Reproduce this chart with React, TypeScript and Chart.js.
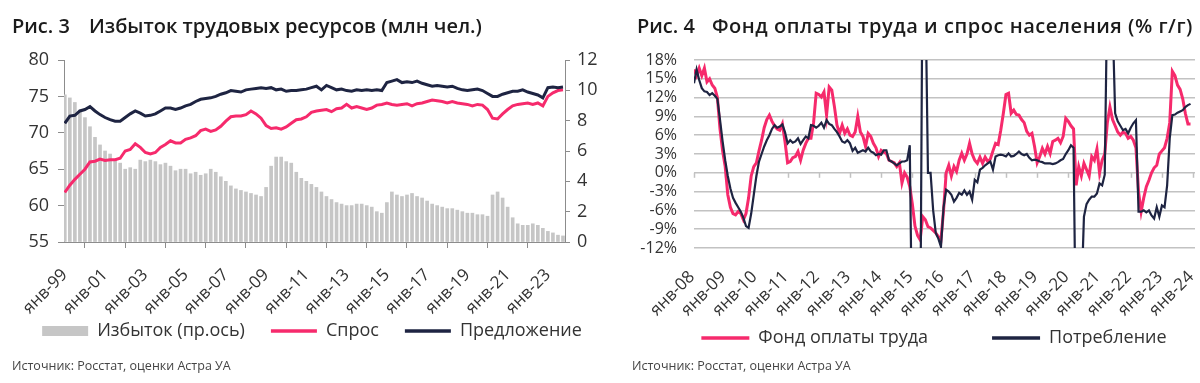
import React, { useEffect, useRef } from 'react';
import { Chart, registerables } from 'chart.js';

Chart.register(...registerables);

const FONT = "'Open Sans', 'Noto Sans', sans-serif";
const PINK = '#f62a6c';
const NAVY = '#1e2442';
const BAR = '#c6c6c6';
const AXIS = '#8c8c8c';
const GRID = '#c2c2c2';
const TXT = '#333333';

// ---------- Chart 1: quarterly, 1999Q1 .. 2023Q4 ----------
const c1Quarters = Array.from({ length: 100 }, (_, i) => 1999 + i / 4);

const c1Surplus = [
  9.7, 9.5, 9.2, 8.7, 8.2, 7.6, 6.9, 6.4, 6.0, 5.8,
  5.4, 5.2, 4.8, 4.9, 4.8, 5.4, 5.3, 5.4, 5.3, 5.1,
  5.2, 5.0, 4.7, 4.8, 4.8, 4.5, 4.6, 4.4, 4.5, 4.8,
  4.6, 4.3, 4.0, 3.7, 3.5, 3.4, 3.3, 3.2, 3.1, 3.0,
  3.6, 5.0, 5.6, 5.6, 5.3, 5.2, 4.6, 4.2, 4.0, 3.8,
  3.6, 3.3, 3.0, 2.8, 2.6, 2.5, 2.4, 2.4, 2.5, 2.5,
  2.4, 2.3, 2.0, 1.9, 2.6, 3.3, 3.1, 3.0, 3.1, 3.2,
  3.0, 2.9, 2.7, 2.5, 2.4, 2.3, 2.2, 2.2, 2.1, 2.0,
  1.9, 1.9, 1.8, 1.8, 1.7, 3.1, 3.3, 2.9, 2.3, 1.6,
  1.2, 1.1, 1.1, 1.2, 1.1, 0.9, 0.7, 0.6, 0.45, 0.4,
];

const c1Demand = [
  61.8, 62.8, 63.6, 64.3, 65.0, 66.0, 66.1, 66.4, 66.2, 66.3,
  66.3, 66.5, 67.5, 67.7, 68.5, 68.0, 67.3, 67.1, 67.3, 68.0,
  68.4, 68.9, 68.6, 68.6, 69.1, 69.3, 69.6, 70.3, 70.5, 70.2,
  70.4, 70.9, 71.6, 72.2, 72.3, 72.3, 72.5, 73.0, 72.6, 72.0,
  71.0, 70.6, 70.7, 70.5, 70.8, 71.3, 71.8, 71.9, 72.2, 72.8,
  73.0, 73.1, 73.2, 72.9, 73.3, 73.4, 73.9, 73.4, 73.6, 73.4,
  73.2, 73.4, 73.8, 73.9, 74.1, 73.9, 73.8, 73.9, 74.0, 73.7,
  74.0, 74.1, 74.3, 74.5, 74.4, 74.3, 74.1, 74.3, 74.1, 74.0,
  73.9, 73.7, 73.9, 73.8, 73.2, 72.0, 71.9, 72.6, 73.2, 73.7,
  73.9, 74.0, 74.1, 73.9, 74.1, 73.7, 75.0, 75.5, 75.8, 75.9,
];

const c1Supply = [
  71.3, 72.3, 72.4, 73.0, 73.2, 73.6, 73.0, 72.5, 72.1, 71.8,
  71.6, 71.6, 72.1, 72.6, 73.0, 72.7, 72.3, 72.4, 72.6, 73.0,
  73.4, 73.4, 73.2, 73.4, 73.7, 73.9, 74.3, 74.6, 74.7, 74.8,
  75.0, 75.3, 75.5, 75.8, 75.7, 75.6, 75.9, 76.0, 76.1, 76.2,
  76.1, 76.2, 75.9, 76.0, 75.7, 75.8, 75.8, 75.9, 76.0, 76.2,
  76.4, 75.9, 76.5, 76.2, 75.9, 76.0, 75.8, 75.7, 75.9, 75.8,
  75.9, 75.8, 75.9, 75.8, 76.9, 77.1, 77.3, 76.9, 77.0, 76.9,
  77.1, 76.8, 76.6, 76.4, 76.5, 76.4, 76.3, 76.4, 76.1, 75.9,
  75.8, 75.9, 76.0, 75.8, 75.4, 75.0, 75.0, 75.3, 75.5, 75.7,
  75.7, 75.9, 75.6, 75.4, 75.2, 74.8, 76.2, 76.3, 76.2, 76.3,
];

const c1TickYears = [1999, 2001, 2003, 2005, 2007, 2009, 2011, 2013, 2015, 2017, 2019, 2021, 2023];
const c1TickLabels = ['янв-99', 'янв-01', 'янв-03', 'янв-05', 'янв-07', 'янв-09', 'янв-11', 'янв-13', 'янв-15', 'янв-17', 'янв-19', 'янв-21', 'янв-23'];

// ---------- Chart 2: monthly, 2008-01 .. 2023-12 ----------
const c2Months = Array.from({ length: 192 }, (_, i) => 2008 + i / 12);

const c2Wages = [
  16.5, 15.5, 16.7, 15.5, 16.7, 14.5, 15.0, 14.0, 13.5, 12.0, 7.0, 3.5, // 2008
  1.0, -3.5, -5.5, -6.5, -6.7, -6.2, -6.5, -7.5, -6.5, -4.0, -0.5, 1.0, // 2009
  1.6, 3.5, 5.2, 7.2, 8.5, 9.2, 8.2, 7.5, 7.0, 6.8, 7.8, 5.0, // 2010
  1.6, 1.8, 2.4, 2.6, 3.4, 2.0, 3.6, 4.7, 5.5, 5.5, 8.0, 12.7, // 2011
  12.5, 12.1, 12.9, 9.2, 13.7, 13.2, 10.6, 7.6, 6.3, 7.6, 6.3, 7.0, // 2012
  6.0, 5.8, 6.5, 9.0, 6.5, 5.8, 4.2, 6.3, 5.8, 4.7, 4.0, 2.6, // 2013
  3.6, 3.3, 3.1, 2.0, 1.8, 1.6, 1.0, 1.6, -1.6, 0.0, -0.7, -2.2, // 2014
  -5.0, -8.5, -10.0, -10.7, -7.0, -7.5, -8.6, -8.8, -9.2, -9.6, -10.2, -10.7, // 2015
  -6.0, 0.0, 1.2, -0.5, 1.0, 0.2, 2.0, 3.1, 2.0, 3.0, 4.7, 3.0, // 2016
  2.0, 1.5, 2.5, 1.5, 2.5, 1.8, 2.2, 3.5, 4.7, 4.5, 6.8, 9.5, // 2017
  12.5, 12.7, 9.5, 10.0, 9.3, 9.2, 8.5, 8.0, 6.6, 6.0, 6.3, 4.2, // 2018
  1.6, 2.6, 3.9, 3.0, 4.2, 3.1, 5.0, 5.2, 5.5, 4.8, 5.8, 8.7, // 2019
  8.2, 7.5, 7.0, -2.0, 1.0, -0.5, 1.5, 0.5, -0.5, 2.6, 2.0, 3.8, // 2020
  0.0, 2.0, 3.0, 8.0, 10.5, 8.5, 7.5, 6.5, 6.0, 6.5, 6.3, 5.5, // 2021
  5.8, 5.2, 4.0, -3.0, -6.2, -4.0, -2.2, -1.2, 0.0, 0.8, 1.2, 3.0, // 2022
  3.5, 4.0, 5.5, 8.0, 16.2, 15.5, 14.0, 13.3, 11.8, 9.5, 7.8, 7.8, // 2023
];

const c2Consumption = [
  14.3, 16.5, 14.8, 13.5, 13.0, 12.9, 12.4, 12.7, 12.3, 11.8, 8.5, 5.0, // 2008
  2.0, -0.5, -2.5, -4.0, -4.8, -5.5, -6.2, -7.2, -8.5, -8.8, -6.5, -3.5, // 2009
  -0.5, 1.8, 3.0, 4.2, 5.2, 6.0, 7.0, 7.6, 7.2, 7.4, 7.7, 6.5, // 2010
  4.7, 5.2, 4.8, 5.0, 5.5, 4.6, 5.2, 5.8, 5.5, 7.6, 7.5, 7.2, // 2011
  7.5, 8.0, 7.2, 8.4, 7.8, 7.6, 7.0, 6.5, 5.8, 5.0, 4.8, 5.2, // 2012
  4.7, 3.5, 4.0, 3.2, 3.4, 3.6, 3.4, 4.0, 3.4, 3.2, 2.8, 3.0, // 2013
  2.9, 3.6, 3.6, 2.0, 1.8, 1.5, 1.2, 1.5, 1.8, 1.8, 2.0, 4.4, // 2014
  -30, -30, -30, -30, 40, 30, 0.0, 0.0, -6.0, -9.6, -10.5, -11.8, // 2015
  -5.5, -2.7, -3.0, -3.5, -4.6, -4.0, -3.2, -3.5, -2.8, -3.5, -3.0, -4.3, // 2016
  -1.1, -1.5, 0.5, 0.8, 1.2, 1.5, 1.8, 0.5, 2.6, 2.8, 2.9, 2.8, // 2017
  2.6, 3.1, 2.6, 2.7, 3.0, 3.4, 3.0, 2.8, 3.0, 2.4, 2.0, 2.1, // 2018
  2.0, 1.8, 1.7, 1.5, 1.5, 1.5, 1.4, 1.5, 1.7, 2.0, 2.2, 3.0, // 2019
  3.6, 4.4, 4.0, -30, -30, -20, -7.0, -5.0, -4.3, -3.8, -3.8, -3.3, // 2020
  -1.7, -2.0, -0.3, 30, 35, 25, 9.5, 8.2, 7.5, 6.8, 7.0, 6.3, // 2021
  7.2, 7.9, 8.4, -6.2, -6.2, -6.0, -6.3, -6.0, -6.8, -7.3, -5.5, -7.0, // 2022
  -5.2, -5.5, -2.0, 5.5, 9.2, 9.3, 9.6, 9.8, 10.0, 10.5, 10.8, 11.0, // 2023
];

const c2TickYears = [2008, 2009, 2010, 2011, 2012, 2013, 2014, 2015, 2016, 2017, 2018, 2019, 2020, 2021, 2022, 2023, 2024];
const c2TickLabels = ['янв-08', 'янв-09', 'янв-10', 'янв-11', 'янв-12', 'янв-13', 'янв-14', 'янв-15', 'янв-16', 'янв-17', 'янв-18', 'янв-19', 'янв-20', 'янв-21', 'янв-22', 'янв-23', 'янв-24'];

// ---------- helpers ----------
const legendPlace = (cx: number, cy: number) => ({
  id: 'legendPlace',
  afterLayout(chart: any) {
    const lg = chart.legend;
    if (!lg) return;
    const w = lg.right - lg.left;
    const h = lg.bottom - lg.top;
    const pad = lg.options.labels.padding;
    const fs = lg.options.labels.font.size;
    lg.left = cx - w / 2;
    lg.right = cx + w / 2;
    lg.top = cy - pad - fs / 2;
    lg.bottom = lg.top + h;
  },
});

const zeroTicks = {
  id: 'zeroTicks',
  beforeDatasetsDraw(chart: any) {
    const { ctx, scales } = chart;
    const x = scales.x;
    const y = scales.y;
    const y0 = y.getPixelForValue(0);
    ctx.save();
    ctx.strokeStyle = GRID;
    ctx.lineWidth = 1.5;
    x.ticks.forEach((t: any) => {
      const px = Math.round(x.getPixelForValue(t.value)) + 0.5;
      ctx.beginPath();
      ctx.moveTo(px, y0);
      ctx.lineTo(px, y0 + 5);
      ctx.stroke();
    });
    ctx.restore();
  },
};

const legendOptions = (padding: number, styleWidth: number) => ({
  display: true,
  position: 'bottom',
  align: 'center',
  labels: {
    usePointStyle: true,
    pointStyleWidth: styleWidth,
    boxHeight: 10,
    padding,
    color: TXT,
    font: { size: 18, family: FONT },
    generateLabels: (chart: any) =>
      chart.data.datasets.map((ds: any, i: number) => {
        const isBar = ds.type === 'bar';
        return {
          text: ds.label,
          datasetIndex: i,
          fillStyle: isBar ? ds.backgroundColor : ds.borderColor,
          strokeStyle: isBar ? ds.backgroundColor : ds.borderColor,
          lineWidth: isBar ? 0 : 3.5,
          pointStyle: isBar ? 'rect' : 'line',
          hidden: false,
          fontColor: TXT,
        };
      }),
  },
});

const xFit = (h: number) => (ax: any) => {
  ax.height = h;
  ax.paddingRight = 0;
  ax.paddingLeft = 0;
};

function chart1Config(): any {
  return {
    type: 'line',
    data: {
      labels: c1Quarters,
      datasets: [
        { type: 'bar', label: 'Избыток (пр.ось)', data: c1Surplus, yAxisID: 'yR', backgroundColor: BAR, borderWidth: 0, barThickness: 3, order: 3 },
        { type: 'line', label: 'Спрос', data: c1Demand, yAxisID: 'yL', borderColor: PINK, backgroundColor: PINK, borderWidth: 3, pointRadius: 0, tension: 0, order: 2 },
        { type: 'line', label: 'Предложение', data: c1Supply, yAxisID: 'yL', borderColor: NAVY, backgroundColor: NAVY, borderWidth: 3, pointRadius: 0, tension: 0, order: 1 },
      ],
    },
    options: {
      responsive: false,
      animation: false,
      events: [],
      layout: { padding: { top: 60, left: 0, right: 0, bottom: 58 } },
      scales: {
        x: {
          type: 'linear',
          min: 1998.96,
          max: 2023.85,
          offset: false,
          afterBuildTicks: (ax: any) => { ax.ticks = c1TickYears.map((v) => ({ value: v })); },
          afterFit: xFit(76),
          grid: { display: true, drawOnChartArea: false, drawTicks: true, tickLength: 6, color: AXIS },
          border: { display: true, color: AXIS, width: 1 },
          ticks: {
            autoSkip: false, maxRotation: 45, minRotation: 45, padding: 17, color: TXT,
            font: { size: 17, family: FONT },
            callback: (_v: any, i: number) => c1TickLabels[i],
          },
        },
        yL: {
          position: 'left',
          min: 55,
          max: 80,
          afterFit: (ax: any) => { ax.width = 64; },
          grid: { drawOnChartArea: false, drawTicks: true, tickLength: 6, color: AXIS },
          border: { display: true, color: AXIS, width: 1 },
          ticks: { stepSize: 5, autoSkip: false, padding: 9, color: TXT, font: { size: 18, family: FONT } },
        },
        yR: {
          position: 'right',
          min: 0,
          max: 12,
          afterFit: (ax: any) => { ax.width = 65; },
          grid: { drawOnChartArea: false, drawTicks: true, tickLength: 5, color: AXIS },
          border: { display: true, color: AXIS, width: 1 },
          ticks: { stepSize: 2, autoSkip: false, padding: 7, color: TXT, font: { size: 18, family: FONT } },
        },
      },
      plugins: {
        legend: legendOptions(26, 46),
        tooltip: { enabled: false },
      },
    },
    plugins: [legendPlace(312, 331)],
  };
}

function chart2Config(): any {
  return {
    type: 'line',
    data: {
      labels: c2Months,
      datasets: [
        { type: 'line', label: 'Фонд оплаты труда', data: c2Wages, borderColor: PINK, backgroundColor: PINK, borderWidth: 3, pointRadius: 0, tension: 0, order: 2 },
        { type: 'line', label: 'Потребление', data: c2Consumption, borderColor: NAVY, backgroundColor: NAVY, borderWidth: 2.2, pointRadius: 0, tension: 0, order: 1 },
      ],
    },
    options: {
      responsive: false,
      animation: false,
      events: [],
      layout: { padding: { top: 60, left: 0, right: 5, bottom: 20 } },
      scales: {
        x: {
          type: 'linear',
          min: 2008,
          max: 2024.06,
          offset: false,
          afterBuildTicks: (ax: any) => { ax.ticks = c2TickYears.map((v) => ({ value: v })); },
          afterFit: xFit(70),
          grid: { display: false, drawTicks: false },
          border: { display: false },
          ticks: {
            autoSkip: false, maxRotation: 45, minRotation: 45, padding: 19, labelOffset: -2, color: TXT,
            font: { size: 17, family: FONT },
            callback: (_v: any, i: number) => c2TickLabels[i],
          },
        },
        y: {
          min: -12,
          max: 18,
          afterFit: (ax: any) => { ax.width = 94; },
          grid: { color: GRID, lineWidth: 1.5, drawTicks: false },
          border: { display: false },
          ticks: {
            stepSize: 3, autoSkip: false, padding: 17, color: TXT,
            font: { size: 16, family: FONT },
            callback: (v: any) => v + '%',
          },
        },
      },
      plugins: {
        legend: legendOptions(64, 48),
        tooltip: { enabled: false },
      },
    },
    plugins: [legendPlace(334, 338), zeroTicks],
  };
}

const titleStyle: React.CSSProperties = {
  position: 'absolute',
  top: 16,
  fontFamily: FONT,
  fontWeight: 600,
  fontSize: 20,
  lineHeight: '20px',
  color: '#1b1b1b',
  whiteSpace: 'nowrap',
};

const sourceStyle: React.CSSProperties = {
  position: 'absolute',
  top: 357,
  fontFamily: FONT,
  fontSize: 12.5,
  lineHeight: '18px',
  color: '#444',
  whiteSpace: 'nowrap',
};

export default function App() {
  const ref1 = useRef<HTMLCanvasElement>(null);
  const ref2 = useRef<HTMLCanvasElement>(null);

  useEffect(() => {
    Chart.defaults.font.family = FONT;
    Chart.defaults.color = TXT;
    const c1 = new Chart(ref1.current as HTMLCanvasElement, chart1Config());
    const c2 = new Chart(ref2.current as HTMLCanvasElement, chart2Config());
    return () => {
      c1.destroy();
      c2.destroy();
    };
  }, []);

  return (
    <div style={{ position: 'absolute', left: 0, top: 0, width: 1200, height: 383, background: '#fff', overflow: 'hidden' }}>
      <canvas ref={ref1} width={630} height={430} style={{ position: 'absolute', left: 0, top: 0 }} />
      <canvas ref={ref2} width={600} height={430} style={{ position: 'absolute', left: 600, top: 0 }} />
      <div style={{ ...titleStyle, left: 12 }}>
        <span>Рис. 3</span>
        <span style={{ marginLeft: 19 }}>Избыток трудовых ресурсов (млн чел.)</span>
      </div>
      <div style={{ ...titleStyle, left: 637 }}>
        <span>Рис. 4</span>
        <span style={{ marginLeft: 17, letterSpacing: 0.55 }}>Фонд оплаты труда и спрос населения (% г/г)</span>
      </div>
      <div style={{ ...sourceStyle, left: 12 }}>Источник: Росстат, оценки Астра УА</div>
      <div style={{ ...sourceStyle, left: 632 }}>Источник: Росстат, оценки Астра УА</div>
    </div>
  );
}
